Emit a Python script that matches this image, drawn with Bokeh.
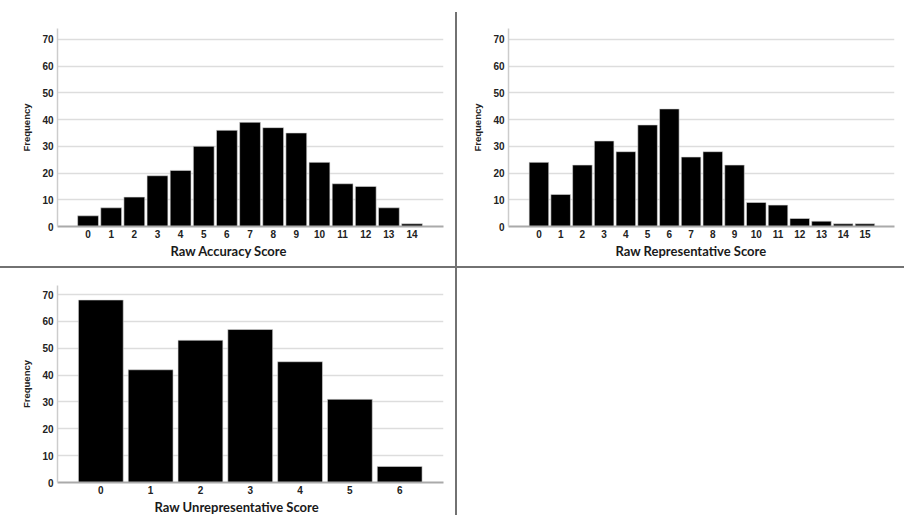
from bokeh.plotting import figure
from bokeh.layouts import column, row
from bokeh.models import FixedTicker, Spacer, Range1d, Title
from bokeh.embed import file_html
from bokeh.resources import INLINE

# ---- data ----
acc_scores = list(range(15))
acc_freq = [4, 7, 11, 19, 21, 30, 36, 39, 37, 35, 24, 16, 15, 7, 1]

rep_scores = list(range(16))
rep_freq = [24, 12, 23, 32, 28, 38, 44, 26, 28, 23, 9, 8, 3, 2, 1, 1]

unrep_scores = list(range(7))
unrep_freq = [68, 42, 53, 57, 45, 31, 6]

y_ticks = [0, 10, 20, 30, 40, 50, 60, 70]

TICK_FONT = "Liberation Sans"
TITLE_FONT = "Lato"
DIV_COLOR = "#727272"


def make_panel(scores, freq, xlabel, width, height, xr, ymax, mb, title_offset):
    """mb: min borders (left, right, top, bottom).
    title_offset: px from the frame's left edge to the start of the x title."""
    p = figure(width=width, height=height, output_backend="svg",
               toolbar_location=None, x_range=Range1d(*xr),
               y_range=Range1d(0, ymax),
               min_border_left=mb[0], min_border_right=mb[1],
               min_border_top=mb[2], min_border_bottom=mb[3])
    p.outline_line_color = None
    p.background_fill_color = "white"
    p.border_fill_color = "white"

    p.vbar(x=scores, top=freq, bottom=0, width=0.9,
           fill_color="black", line_color="#d8d8d8", line_width=0.6)

    p.xgrid.visible = False
    p.ygrid.ticker = FixedTicker(ticks=y_ticks)
    p.ygrid.grid_line_color = "#dddddd"
    p.ygrid.grid_line_width = 1.5

    xa = p.xaxis[0]
    xa.ticker = FixedTicker(ticks=scores)
    xa.minor_tick_line_color = None
    xa.major_tick_line_color = None
    xa.major_tick_out = 0
    xa.major_tick_in = 0
    xa.minor_tick_out = 0
    xa.axis_line_color = "#aaaaaa"
    xa.axis_line_width = 2
    xa.major_label_text_font = TICK_FONT
    xa.major_label_text_font_style = "bold"
    xa.major_label_text_font_size = "10px"
    xa.major_label_text_color = "#222222"
    xa.major_label_standoff = 3

    ya = p.yaxis[0]
    ya.ticker = FixedTicker(ticks=y_ticks)
    ya.minor_tick_line_color = None
    ya.major_tick_line_color = None
    ya.major_tick_out = 0
    ya.major_tick_in = 0
    ya.minor_tick_out = 0
    ya.axis_line_color = "#cccccc"
    ya.axis_line_width = 1.5
    ya.major_label_text_font = TICK_FONT
    ya.major_label_text_font_style = "bold"
    ya.major_label_text_font_size = "10px"
    ya.major_label_text_color = "#222222"
    ya.major_label_standoff = 4
    ya.axis_label = "Frequency"
    ya.axis_label_text_font = TICK_FONT
    ya.axis_label_text_font_style = "bold"
    ya.axis_label_text_font_size = "9.5px"
    ya.axis_label_text_color = "#222222"
    ya.axis_label_standoff = 7

    # x title as a "below" title so it can sit left of the frame centre
    t = Title(text=xlabel, align="left", offset=title_offset, standoff=1,
              text_font=TITLE_FONT, text_font_style="bold",
              text_font_size="13px", text_color="#1a1a1a")
    p.add_layout(t, "below")
    return p


p1 = make_panel(acc_scores, acc_freq, "Raw Accuracy Score", 455, 266,
                (-1.32, 15.36), 74.1, (57, 12, 28, 40), 113)
p2 = make_panel(rep_scores, rep_freq, "Raw Representative Score", 447, 266,
                (-1.40, 16.36), 74.1, (51, 10, 28, 40), 107)
p3 = make_panel(unrep_scores, unrep_freq, "Raw Unrepresentative Score", 455, 247,
                (-0.87, 6.88), 73.4, (57, 12, 17, 33), 97)

vdiv_top = column(Spacer(width=2, height=12),
                  Spacer(width=2, height=254, styles={"background-color": DIV_COLOR}))
hdiv = Spacer(width=904, height=2, styles={"background-color": DIV_COLOR})
vdiv_bot = Spacer(width=2, height=247, styles={"background-color": DIV_COLOR})
blank = Spacer(width=447, height=247)

layout = column(row(p1, vdiv_top, p2), hdiv, row(p3, vdiv_bot, blank))

open("out.html", "w").write(file_html(layout, INLINE))
